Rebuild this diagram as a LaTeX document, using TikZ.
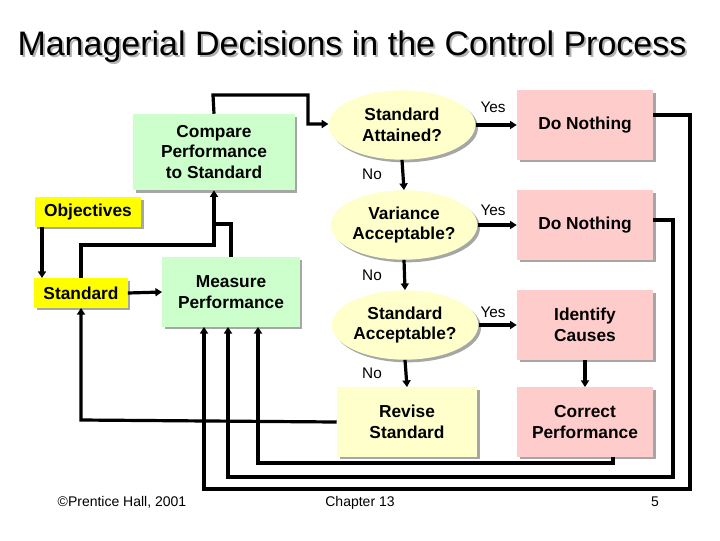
\documentclass[tikz,border=0pt]{standalone}
\usepackage{fontspec}
\setmainfont{Liberation Sans}
\usetikzlibrary{shadows,arrows.meta,shapes.geometric}
\definecolor{grn}{HTML}{CCFFCC}
\definecolor{pnk}{HTML}{FFCCCC}
\definecolor{lyel}{HTML}{FFFFCC}
\definecolor{yel}{HTML}{FFFF00}
\begin{document}
\begin{tikzpicture}[x=0.75pt,y=-0.75pt,
 sh/.style={drop shadow={shadow xshift=2pt,shadow yshift=-2pt,fill=gray!70,opacity=1}},
 box/.style={sh,inner sep=0pt,align=center,font=\bfseries\fontsize{13}{15.5}\selectfont},
 gbox/.style={box,fill=grn},
 pbox/.style={box,fill=pnk,minimum width=102pt,minimum height=52pt},
 ybox/.style={box,fill=yel,minimum height=22pt},
 ell/.style={ellipse,fill=lyel,sh,inner sep=0pt,minimum width=110pt,minimum height=52pt,align=center,font=\bfseries\fontsize{13}{15.5}\selectfont},
 lab/.style={font=\fontsize{11.5}{13}\selectfont},
 foot/.style={font=\fontsize{10.5}{12}\selectfont,anchor=base},
 con/.style={line width=2.4pt},
 arr/.style={con,-{Triangle[length=5pt,width=6pt]}}]
\useasboundingbox (0,0) rectangle (720,540);
\node[font=\fontsize{25.5}{28}\selectfont,text=gray!60] at (354,49) {Managerial Decisions in the Control Process};
\node[font=\fontsize{25.5}{28}\selectfont] (title) at (352,47) {Managerial Decisions in the Control Process};

\node[gbox,minimum width=121pt,minimum height=57pt] (cmp) at (214,152) {Compare\\Performance\\to Standard};
\node[ybox,minimum width=80pt] (obj) at (88,212) {Objectives};
\node[ybox,minimum width=70pt] (std) at (81,293) {Standard};
\node[gbox,minimum width=103pt,minimum height=52pt] (mea) at (231,292) {Measure\\Performance};

\node[ell] (e1) at (402,125) {Standard\\Attained?};
\node[ell] (e2) at (404,225) {Variance\\Acceptable?};
\node[ell] (e3) at (405,325) {Standard\\Acceptable?};
\node[pbox] (d1) at (585,125) {Do Nothing};
\node[pbox] (d2) at (585,225) {Do Nothing};
\node[pbox] (ic) at (585,325) {Identify\\Causes};
\node[pbox] (cp) at (585,422) {Correct\\Performance};
\node[box,fill=lyel,minimum width=105pt,minimum height=52pt] (rv) at (407,422) {Revise\\Standard};

\node[lab] (y1) at (493,107) {Yes};
\node[lab] (y2) at (493,210) {Yes};
\node[lab] (y3) at (493,312) {Yes};
\node[lab] (n1) at (372,174) {No};
\node[lab] (n2) at (372,275) {No};
\node[lab] (n3) at (372,373) {No};

\node[foot] (f1) at (122,506) {©Prentice Hall, 2001};
\node[foot] (f2) at (360,506) {Chapter 13};
\node[foot] (f3) at (655,506) {5};

% connectors
\draw[arr] (cmp.north) -- (213,95) -- (308,95) -- (308,124) -- (e1.west |- 0,124);
\draw[arr] (obj.south -| 42,0) -- (42,278);
\draw[arr] (std.east) -- (mea.west);
\draw[con] (mea.north) -- (231,224) -- (214,224);
\draw[arr] (std.north) -- (81,245) -- (214,245) -- (cmp.south);
\draw[arr] (rv.west) -- (81,420) -- (std.south);
\draw[arr] (e1.east) -- (d1.west);
\draw[arr] (e2.east) -- (d2.west);
\draw[arr] (e3.east) -- (ic.west);
\draw[arr] (e1.south) -- (e2.north);
\draw[arr] (e2.south) -- (e3.north);
\draw[arr] (e3.south) -- (rv.north);
\draw[arr] (ic.south) -- (cp.north);
\draw[arr] (cp.south -| 613,0) -- (613,463) -- (258,463) -- (mea.south -| 258,0);
\draw[arr] (d2.east |- 0,220) -- (673,220) -- (673,477) -- (228,477) -- (mea.south -| 228,0);
\draw[arr] (d1.east |- 0,115) -- (690,115) -- (690,489) -- (204,489) -- (mea.south -| 204,0);
\end{tikzpicture}
\end{document}
